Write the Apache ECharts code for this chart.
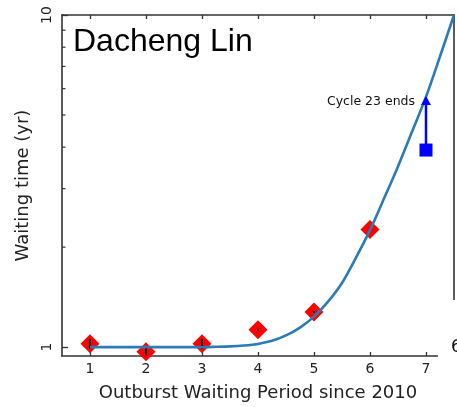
<!DOCTYPE html>
<html>
<head>
<meta charset="utf-8">
<script src="https://cdn.jsdelivr.net/npm/echarts@6/dist/echarts.min.js"></script>
<style>
  html, body { margin: 0; padding: 0; background: #fff; }
  #chart { width: 457px; height: 407px; }
</style>
</head>
<body>
<div id="chart"></div>
<script>
// Observed outburst waiting times (yr) with their error bars
const periods   = [1, 2, 3, 4, 5, 6];
const waitTimes = [1.024, 0.968, 1.024, 1.128, 1.275, 2.26];
const errLow    = [0.988, 0.944, 0.988, 1.120, 1.266, 2.245];
const errHigh   = [1.060, 1.005, 1.060, 1.136, 1.284, 2.276];

// Model curve
const fitX = [1, 1.5, 2, 2.5, 3, 3.25, 3.5, 3.75, 4, 4.25, 4.5, 4.75, 5, 5.25, 5.5, 5.75, 6, 6.25, 6.5, 6.75, 7, 7.25, 7.5];
const fitY = [1.0, 1.0, 1.0, 1.0, 1.0, 1.002, 1.005, 1.011, 1.022, 1.044, 1.084, 1.145, 1.235, 1.37, 1.56, 1.86, 2.25, 2.8, 3.5, 4.45, 5.67, 7.5, 10.0];

// Lower limit at period 7 (end of cycle 23), arrow pointing upward
const limitPeriod = 7;
const limitLow    = 3.92;
const limitHigh   = 5.7;
const limitText   = 'Cycle 23 ends';

// Axis ticks
const xTicks = [1, 2, 3, 4, 5, 6, 7];
const yMinorTicks = [2, 3, 4, 5, 6, 7, 8, 9];
const xRange = [0.5, 7.5];
const yRange = [0.94, 10];

const AXIS_COLOR = '#333';
const FONT = '"DejaVu Sans", sans-serif';

const chart = echarts.init(document.getElementById('chart'), null, { renderer: 'canvas' });

const commonX = {
  type: 'value',
  min: xRange[0],
  max: xRange[1],
  splitLine: { show: false },
  axisLine: { show: true, onZero: false, lineStyle: { color: AXIS_COLOR, width: 1.6 } }
};
const commonY = {
  type: 'log',
  logBase: 10,
  min: yRange[0],
  max: yRange[1],
  splitLine: { show: false },
  axisLine: { show: true, onZero: false, lineStyle: { color: AXIS_COLOR, width: 1.6 } }
};

chart.setOption({
  animation: false,
  backgroundColor: '#fff',
  title: {
    text: 'Dacheng Lin',
    left: 73,
    top: 26,
    padding: 0,
    textStyle: { fontFamily: '"Liberation Sans", Arial, sans-serif', fontSize: 32, fontWeight: 'normal', color: '#000' }
  },
  grid: { left: 62, right: 3, top: 15, bottom: 51, containLabel: false },
  xAxis: [
    Object.assign({}, commonX, {
      position: 'bottom',
      name: 'Outburst Waiting Period since 2010',
      nameLocation: 'middle',
      nameGap: 28,
      nameTextStyle: { fontFamily: FONT, fontSize: 18, color: '#222' },
      axisTick: { show: true, inside: true, length: 4, customValues: xTicks, lineStyle: { color: AXIS_COLOR, width: 1.3 } },
      axisLabel: { show: true, customValues: xTicks, margin: 6, fontFamily: FONT, fontSize: 14, color: '#222' }
    }),
    Object.assign({}, commonX, {
      position: 'top',
      axisTick: { show: true, inside: true, length: 4, customValues: xTicks, lineStyle: { color: AXIS_COLOR, width: 1.3 } },
      axisLabel: { show: false }
    })
  ],
  yAxis: [
    Object.assign({}, commonY, {
      position: 'left',
      name: 'Waiting time (yr)',
      nameLocation: 'middle',
      nameGap: 26,
      nameRotate: 90,
      nameTextStyle: { fontFamily: FONT, fontSize: 18, color: '#222' },
      axisTick: { show: true, inside: true, length: 6, lineStyle: { color: AXIS_COLOR, width: 1.3 } },
      axisLabel: {
        show: true,
        rotate: 90,
        margin: 8,
        showMinLabel: false,
        fontFamily: FONT,
        fontSize: 14,
        color: '#222',
        formatter: function (v) {
          const l = Math.log10(v);
          return Math.abs(l - Math.round(l)) < 1e-6 ? String(Math.round(v)) : '';
        }
      }
    }),
    Object.assign({}, commonY, {
      position: 'right',
      axisTick: { show: false },
      axisLabel: { show: false }
    })
  ],
  graphic: [
    // neighbouring panel overlaps the lower-right corner
    { type: 'rect', left: 438, top: 300, shape: { width: 19, height: 107 }, style: { fill: '#fff' }, z: 100 },
    { type: 'text', left: 451, top: 339, style: { text: '6', font: '17px ' + FONT, fill: '#111' }, z: 101 }
  ],
  series: [
    {
      name: 'observed',
      type: 'scatter',
      symbol: 'diamond',
      symbolSize: 19,
      itemStyle: { color: '#ff0000', opacity: 1 },
      data: periods.map((x, i) => [x, waitTimes[i]]),
      z: 2
    },
    {
      name: 'errors',
      type: 'custom',
      data: periods.map((x, i) => [x, errLow[i], errHigh[i]]),
      renderItem: function (params, api) {
        const lo = api.coord([api.value(0), api.value(1)]);
        const hi = api.coord([api.value(0), api.value(2)]);
        return {
          type: 'line',
          shape: { x1: lo[0], y1: lo[1], x2: hi[0], y2: hi[1] },
          style: { stroke: '#000', lineWidth: 2 }
        };
      },
      z: 3
    },
    {
      name: 'model',
      type: 'line',
      data: fitX.map((x, i) => [x, fitY[i]]),
      showSymbol: false,
      smooth: 0.3,
      lineStyle: { color: '#2c7bb6', width: 2.6 },
      z: 4
    },
    {
      name: 'limit',
      type: 'custom',
      data: [[limitPeriod, limitLow, limitHigh]],
      renderItem: function (params, api) {
        const base = api.coord([api.value(0), api.value(1)]);
        const tip = api.coord([api.value(0), api.value(2)]);
        const x = base[0];
        return {
          type: 'group',
          children: [
            { type: 'rect', shape: { x: x - 6.5, y: base[1] - 6.5, width: 13, height: 13 }, style: { fill: '#0000ff' } },
            { type: 'line', shape: { x1: x, y1: base[1], x2: x, y2: tip[1] + 8 }, style: { stroke: '#0000ff', lineWidth: 2.5 } },
            { type: 'polygon', shape: { points: [[x, tip[1]], [x - 5, tip[1] + 9], [x + 5, tip[1] + 9]] }, style: { fill: '#0000ff' } },
            { type: 'text', style: { text: limitText, x: x - 11, y: tip[1] + 6, align: 'right', verticalAlign: 'middle', font: '12.5px ' + FONT, fill: '#111' } }
          ]
        };
      },
      z: 5
    },
    {
      name: 'minorTicks',
      type: 'custom',
      data: yMinorTicks.map(v => [xRange[0], v]),
      clip: false,
      silent: true,
      renderItem: function (params, api) {
        const p = api.coord([api.value(0), api.value(1)]);
        return {
          type: 'line',
          shape: { x1: p[0], y1: p[1], x2: p[0] + 3.5, y2: p[1] },
          style: { stroke: AXIS_COLOR, lineWidth: 1.2 }
        };
      },
      z: 6
    }
  ]
});
</script>
</body>
</html>
